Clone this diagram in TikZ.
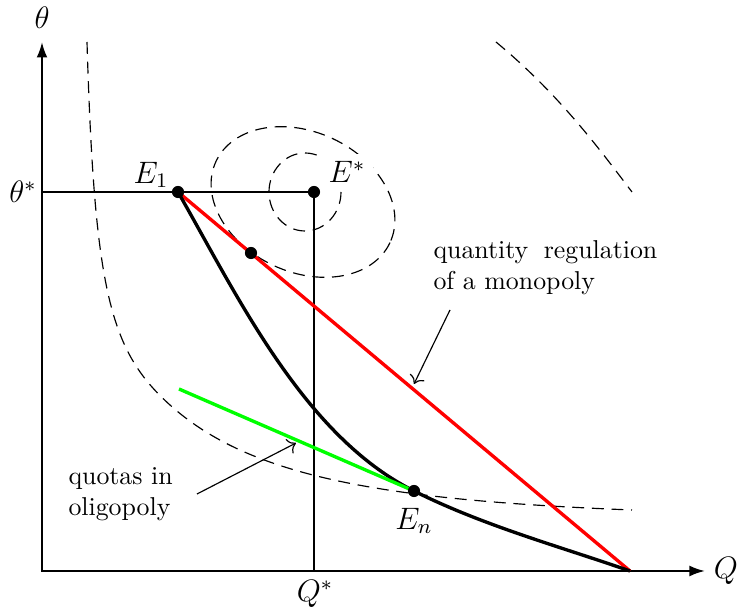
\documentclass[tikz,border=0pt]{standalone}
\usetikzlibrary{arrows.meta}
\begin{document}
\begin{tikzpicture}[x=0.387pt,y=-0.387pt,
  axis/.style={line width=0.8pt,{Latex[length=6pt,width=4.2pt]}-{Latex[length=6pt,width=4.2pt]}},
  thinline/.style={line width=0.45pt},
  dashcurve/.style={line width=0.45pt,dash pattern=on 4.6pt off 3pt},
  thickline/.style={line width=1.3pt},
  dot/.style={circle,fill=black,inner sep=0pt,minimum size=4.7pt},
  mlabel/.style={font=\large,inner sep=1pt},
  note/.style={align=left,inner sep=0pt,anchor=west},
  pointer/.style={line width=0.45pt,-{To[length=3pt]}}]
\useasboundingbox (0,0) rectangle (740,615);
% positions
\coordinate (O) at (42,571);
\coordinate (ytip) at (42,42);
\coordinate (xtip) at (705,571);
\coordinate (qmax) at (630,571);
\coordinate (qs) at (314,571);
\coordinate (ts) at (42,192);
\coordinate (E1) at (178,192);
\coordinate (Es) at (314,192);
\coordinate (M) at (251,253);
\coordinate (En) at (414,491);
\coordinate (g0) at (179,389);
% dashed indifference curves
\draw[dashcurve] (87,42) .. controls (94.5,292) and (110,351) .. (170,405)
                        .. controls (250,477) and (382,500) .. (632,510);
\draw[dashcurve,shift={(303,202)},rotate=-25] (0,0) ellipse[x radius=96,y radius=70];
\draw[dashcurve] (305,192) ellipse[x radius=36,y radius=39];
\draw[dashcurve] (496,42) .. controls (560,95) and (600,150) .. (632,192);
% axes
\draw[axis] (ytip) -- (O) -- (xtip);
% guide lines
\draw[thinline] (ts) -- (Es) -- (qs);
% curves
\draw[thickline,red] (E1) -- (qmax);
\draw[thickline] (E1) .. controls (238,297) and (304,436) .. (En)
                      .. controls (484,526) and (560,546.5) .. (qmax);
\draw[thickline,green] (g0) -- (En);
% dots
\node[dot] (dE1) at (E1) {};
\node[dot] (dEs) at (Es) {};
\node[dot] (dM) at (M) {};
\node[dot] (dEn) at (En) {};
% labels
\node[mlabel] (lth) at (42,18) {$\theta$};
\node[mlabel] (lts) at (23,192) {$\theta^*$};
\node[mlabel] (lQ) at (726,571) {$Q$};
\node[mlabel] (lQs) at (315,594) {$Q^*$};
\node[mlabel] (lE1) at (151,175) {$E_1$};
\node[mlabel,fill=white,inner sep=3pt] (lEs) at (347,172) {$E^*$};
\node[mlabel] (lEn) at (414,521) {$E_n$};
% annotations
\node[note] (n1) at (433,268) {quantity\hspace{6pt}regulation\\of a monopoly};
\coordinate (a1s) at (450,310);
\coordinate (a1e) at (414,384);
\draw[pointer] (a1s) -- (a1e);
\node[note] (n2) at (68,494) {quotas in\\oligopoly};
\coordinate (a2s) at (197,494);
\coordinate (a2e) at (296,443);
\draw[pointer] (a2s) -- (a2e);
\end{tikzpicture}
\end{document}
